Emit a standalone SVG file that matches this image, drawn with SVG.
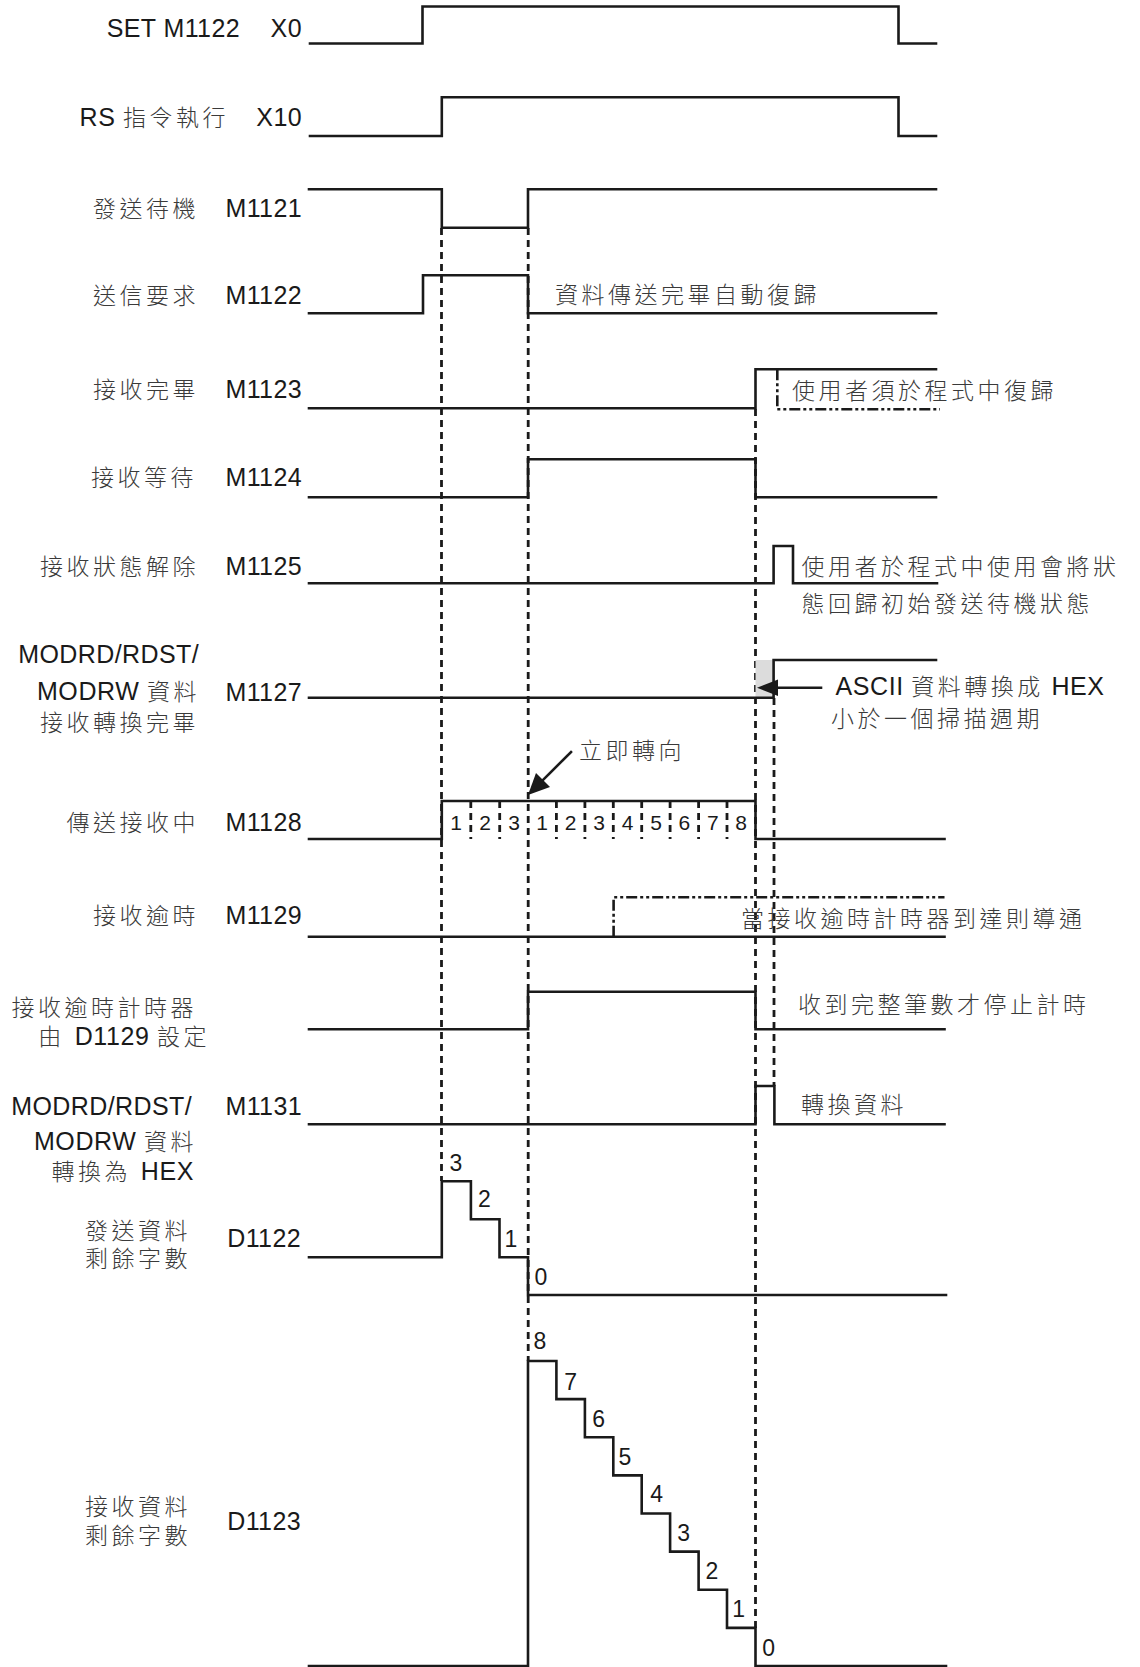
<svg xmlns="http://www.w3.org/2000/svg" width="1140" height="1667" viewBox="0 0 1140 1667">
<defs>
<style>
.w{fill:none;stroke:#1a1a1a;stroke-width:2.6;stroke-linejoin:miter;stroke-linecap:square}
.d{fill:none;stroke:#1a1a1a;stroke-width:2.8;stroke-dasharray:7 5}
.dd{fill:none;stroke:#1a1a1a;stroke-width:2.6;stroke-dasharray:11 3 3 3 3 3}
.lat{font-family:"Liberation Sans",Arial,sans-serif;font-size:25px;letter-spacing:0.4px;fill:#1a1a1a}
.cjk{font-family:"Liberation Sans","Noto Sans CJK TC",sans-serif;font-size:23px;font-weight:300;letter-spacing:3.5px;fill:#3a3a3a}
.L{font-size:25px;font-weight:400;letter-spacing:0.6px;fill:#1a1a1a}
.n{font-family:"Liberation Sans",Arial,sans-serif;font-size:21px;fill:#1a1a1a;text-anchor:middle}
.g{font-family:"Liberation Sans",Arial,sans-serif;font-size:23px;fill:#1a1a1a;text-anchor:middle}
.e{text-anchor:end}
</style>
</defs>
<rect width="1140" height="1667" fill="#fff"/>

<g id="guides">
<path class="d" d="M441.5,228 V1181"/>
<path class="d" d="M528.2,228 V1361"/>
<path class="d" d="M755.5,409 V1628"/>
<path class="d" d="M774,698 V1086"/>
<path class="d" d="M470.8,801 V839 M499.7,801 V839 M556.4,801 V839 M584.9,801 V839 M613.3,801 V839 M641.7,801 V839 M670.1,801 V839 M698.6,801 V839 M727,801 V839"/>
</g>

<g id="labels">
<text class="lat e" x="240" y="37">SET M1122</text>
<text class="lat e" x="302" y="37">X0</text>
<text class="cjk e" x="229" y="126"><tspan class="L">RS </tspan>指令執行</text>
<text class="lat e" x="302" y="126">X10</text>
<text class="cjk e" x="199" y="217">發送待機</text>
<text class="lat e" x="302" y="217">M1121</text>
<text class="cjk e" x="199" y="304">送信要求</text>
<text class="lat e" x="302" y="304">M1122</text>
<text class="cjk e" x="199" y="398">接收完畢</text>
<text class="lat e" x="302" y="398">M1123</text>
<text class="cjk e" x="197" y="486">接收等待</text>
<text class="lat e" x="302" y="486">M1124</text>
<text class="cjk e" x="199" y="575">接收狀態解除</text>
<text class="lat e" x="302" y="575">M1125</text>
<text class="lat e" x="199" y="663">MODRD/RDST/</text>
<text class="cjk e" x="200" y="700"><tspan class="L">MODRW </tspan>資料</text>
<text class="cjk e" x="199" y="731">接收轉換完畢</text>
<text class="lat e" x="302" y="701">M1127</text>
<text class="cjk e" x="199" y="831">傳送接收中</text>
<text class="lat e" x="302" y="831">M1128</text>
<text class="cjk e" x="199" y="924">接收逾時</text>
<text class="lat e" x="302" y="924">M1129</text>
<text class="cjk e" x="197" y="1016">接收逾時計時器</text>
<text class="cjk e" x="210" y="1045">由 <tspan class="L">D1129 </tspan>設定</text>
<text class="lat e" x="192" y="1115">MODRD/RDST/</text>
<text class="lat e" x="302" y="1115">M1131</text>
<text class="cjk e" x="197" y="1150"><tspan class="L">MODRW </tspan>資料</text>
<text class="cjk e" x="194" y="1180">轉換為 <tspan class="L">HEX</tspan></text>
<text class="cjk e" x="191" y="1239">發送資料</text>
<text class="cjk e" x="191" y="1267">剩餘字數</text>
<text class="lat e" x="301" y="1247">D1122</text>
<text class="cjk e" x="191" y="1515">接收資料</text>
<text class="cjk e" x="191" y="1544">剩餘字數</text>
<text class="lat e" x="301" y="1530">D1123</text>
</g>

<g id="sig-X0"><path class="w" d="M310,43.5 H422.5 V6.5 H898.5 V43.5 H936"/></g>
<g id="sig-X10"><path class="w" d="M310,136 H441.8 V97.3 H898.5 V136 H936"/></g>
<g id="sig-M1121"><path class="w" d="M309,189.3 H441.8 V227.7 H528 V189.3 H936"/></g>
<g id="sig-M1122">
<path class="w" d="M309,313.3 H423 V275.3 H528 V313.3 H936"/>
<text class="cjk" x="555" y="303">資料傳送完畢自動復歸</text>
</g>
<g id="sig-M1123">
<path class="w" d="M309,408.3 H755.5 V369.3 H936"/>
<path class="dd" d="M777.3,369.3 V409.3 H940"/>
<text class="cjk" x="792" y="399">使用者須於程式中復歸</text>
</g>
<g id="sig-M1124"><path class="w" d="M309,497.3 H528 V459.3 H755.5 V497.3 H936"/></g>
<g id="sig-M1125">
<path class="w" d="M309,583.3 H773.6 V546 H793 V583.3 H937"/>
<text class="cjk" x="801.6" y="575">使用者於程式中使用會將狀</text>
<text class="cjk" x="801.6" y="612">態回歸初始發送待機狀態</text>
</g>
<g id="sig-M1127">
<rect x="755.5" y="660" width="18" height="37.7" fill="#dcdcdc"/>
<path class="w" d="M309,697.7 H773.6 V660 H936"/>
<path class="w" d="M821,687.7 H776"/>
<polygon points="757,687.7 778,679.5 778,695.9" fill="#1a1a1a"/>
<text class="cjk" x="835.5" y="695"><tspan class="L">ASCII </tspan>資料轉換成<tspan class="L"> HEX</tspan></text>
<text class="cjk" x="831" y="727">小於一個掃描週期</text>
</g>
<g id="sig-M1128">
<path class="w" d="M309,839 H441.8 V801 H755.5 V839 H944.5"/>
<text class="n" x="456" y="830">1</text>
<text class="n" x="485" y="830">2</text>
<text class="n" x="514" y="830">3</text>
<text class="n" x="542" y="830">1</text>
<text class="n" x="570.6" y="830">2</text>
<text class="n" x="599" y="830">3</text>
<text class="n" x="627.5" y="830">4</text>
<text class="n" x="656" y="830">5</text>
<text class="n" x="684.3" y="830">6</text>
<text class="n" x="712.8" y="830">7</text>
<text class="n" x="741.2" y="830">8</text>
<path class="w" d="M571,752 L540,783"/>
<polygon points="528,795 536,773 550,787" fill="#1a1a1a"/>
<text class="cjk" x="579" y="759">立即轉向</text>
</g>
<g id="sig-M1129">
<path class="w" d="M309,936.7 H944.5"/>
<path class="dd" d="M613.6,936.7 V897.3 H944.5"/>
<text class="cjk" x="741" y="927">當接收逾時計時器到達則導通</text>
</g>
<g id="sig-timer">
<path class="w" d="M309,1029.3 H528 V991.7 H755.5 V1029.3 H944.5"/>
<text class="cjk" x="798" y="1013">收到完整筆數才停止計時</text>
</g>
<g id="sig-M1131">
<path class="w" d="M309,1124.3 H755.5 V1086 H774.4 V1124.3 H944.5"/>
<text class="cjk" x="801" y="1113">轉換資料</text>
</g>
<g id="sig-D1122">
<path class="w" d="M309,1257.3 H441.8 V1181.3 H470.9 V1219.3 H499.5 V1257.3 H528 V1295 H946"/>
<text class="g" x="456" y="1171">3</text>
<text class="g" x="484.5" y="1207">2</text>
<text class="g" x="511" y="1247">1</text>
<text class="g" x="541" y="1285">0</text>
</g>
<g id="sig-D1123">
<path class="w" d="M309,1666 H528 V1361 H556.4 V1399.1 H584.9 V1437.3 H613.3 V1475.4 H641.7 V1513.5 H670.1 V1551.6 H698.6 V1589.8 H727 V1627.9 H755.5 V1666 H946"/>
<text class="g" x="540" y="1349">8</text>
<text class="g" x="570.7" y="1390">7</text>
<text class="g" x="598.7" y="1427">6</text>
<text class="g" x="625" y="1465">5</text>
<text class="g" x="656.7" y="1502">4</text>
<text class="g" x="683.7" y="1541">3</text>
<text class="g" x="712" y="1579">2</text>
<text class="g" x="738.7" y="1617">1</text>
<text class="g" x="768.7" y="1656">0</text>
</g>
</svg>
